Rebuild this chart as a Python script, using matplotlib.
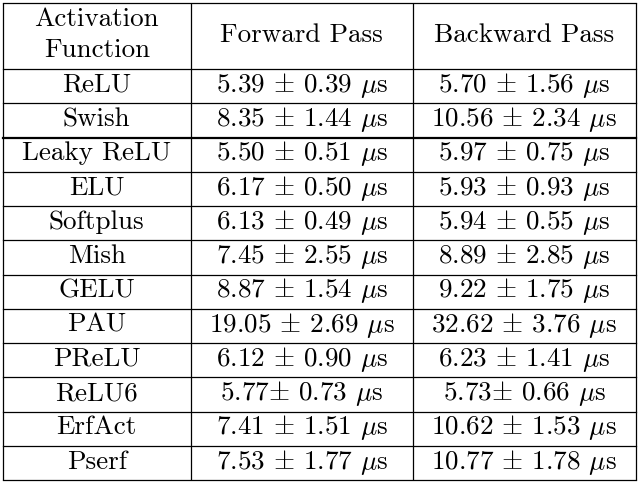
import matplotlib
matplotlib.use("Agg")
import matplotlib.pyplot as plt

plt.rcParams["font.family"] = "cmr10"
plt.rcParams["mathtext.fontset"] = "cm"
plt.rcParams["axes.unicode_minus"] = False

activations = ["ReLU", "Swish", "Leaky ReLU", "ELU", "Softplus", "Mish",
               "GELU", "PAU", "PReLU", "ReLU6", "ErfAct", "Pserf"]
fwd_mean = ["5.39", "8.35", "5.50", "6.17", "6.13", "7.45",
            "8.87", "19.05", "6.12", "5.77", "7.41", "7.53"]
fwd_std = ["0.39", "1.44", "0.51", "0.50", "0.49", "2.55",
           "1.54", "2.69", "0.90", "0.73", "1.51", "1.77"]
bwd_mean = ["5.70", "10.56", "5.97", "5.93", "5.94", "8.89",
            "9.22", "32.62", "6.23", "5.73", "10.62", "10.77"]
bwd_std = ["1.56", "2.34", "0.75", "0.93", "0.55", "2.85",
           "1.75", "3.76", "1.41", "0.66", "1.53", "1.78"]
# ReLU6 row has no space before the plus-minus sign in the original
tight_rows = ["ReLU6"]

W, H = 639, 484
fig = plt.figure(figsize=(W / 100, H / 100), dpi=100)
ax = fig.add_axes([0, 0, 1, 1])
ax.set_xlim(0, W)
ax.set_ylim(H, 0)
ax.axis("off")

col_x = [3, 190.5, 413, 635.5]
top, head_bot, bottom = 3, 69, 480
row_h = (bottom - head_bot) / len(activations)
fs = 19.5

# frame and grid
for x in col_x:
    ax.plot([x, x], [top, bottom], color="black", lw=0.9, solid_capstyle="butt")
ax.plot([col_x[0], col_x[-1]], [top, top], color="black", lw=0.9)
ax.plot([col_x[0], col_x[-1]], [head_bot, head_bot], color="black", lw=0.9)
for i in range(1, len(activations) + 1):
    y = head_bot + i * row_h
    lw = 1.6 if i == 2 else 0.9
    ax.plot([col_x[0], col_x[-1]], [y, y], color="black", lw=lw)

centers = [(col_x[i] + col_x[i + 1]) / 2 for i in range(3)]

# header
ax.text(centers[0], 26, "Activation", ha="center", va="baseline", fontsize=fs)
ax.text(centers[0], 57, "Function", ha="center", va="baseline", fontsize=fs)
ax.text(centers[1], 42, "Forward Pass", ha="center", va="baseline", fontsize=fs)
ax.text(centers[2], 42, "Backward Pass", ha="center", va="baseline", fontsize=fs)

for i, name in enumerate(activations):
    yb = head_bot + (i + 0.5) * row_h + 5.8
    sep = "" if name in tight_rows else " "
    fwd = f"{fwd_mean[i]}{sep}$\\pm$ {fwd_std[i]} $\\mu$s"
    bwd = f"{bwd_mean[i]}{sep}$\\pm$ {bwd_std[i]} $\\mu$s"
    ax.text(centers[0], yb, name, ha="center", va="baseline", fontsize=fs)
    ax.text(centers[1], yb, fwd, ha="center", va="baseline", fontsize=fs)
    ax.text(centers[2], yb, bwd, ha="center", va="baseline", fontsize=fs)

fig.savefig("out.png", dpi=100)
